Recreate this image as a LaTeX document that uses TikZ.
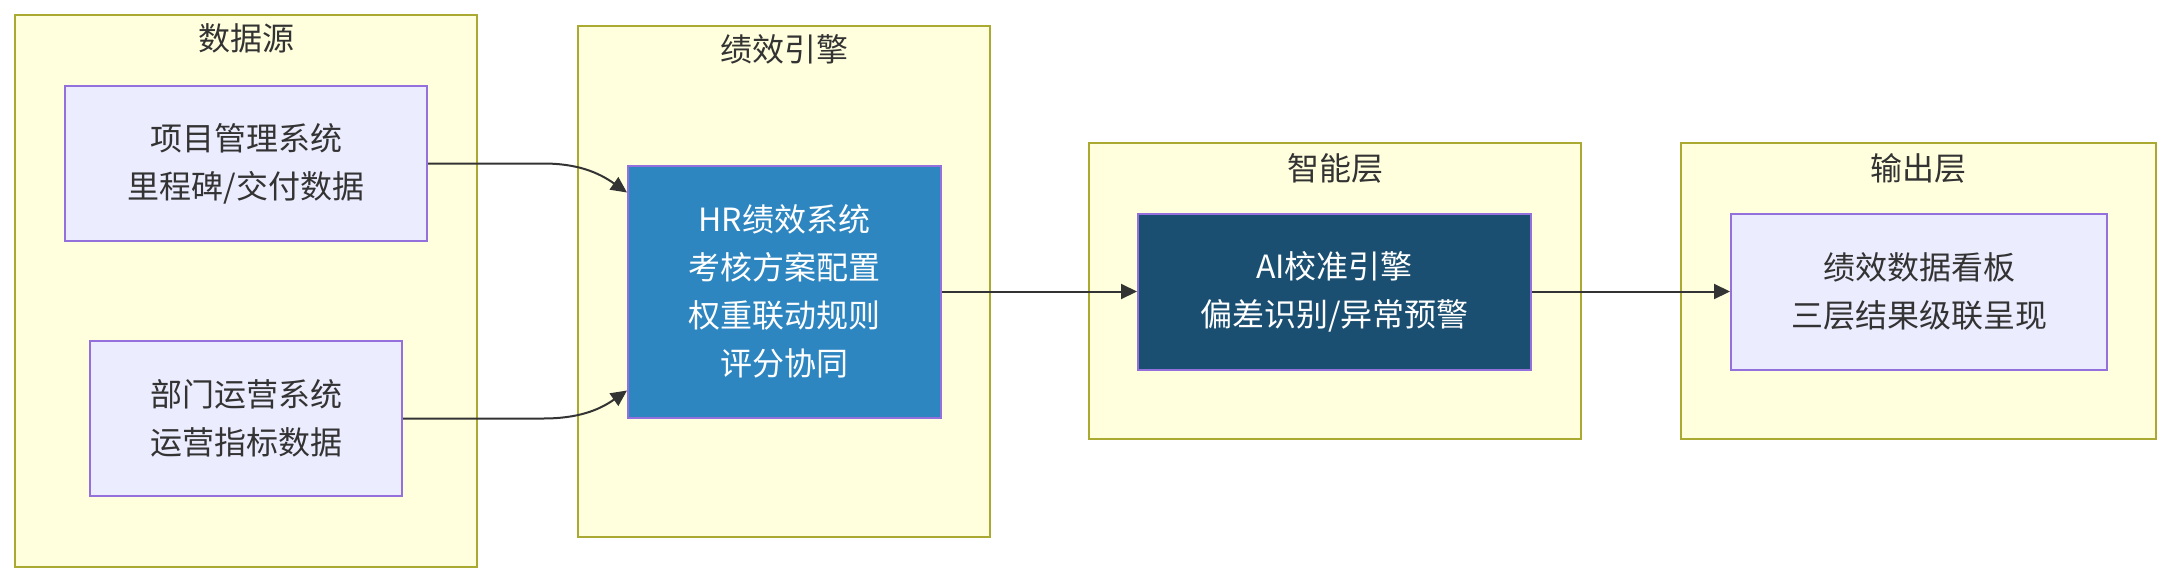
\documentclass[tikz,border=0pt]{standalone}
\usepackage{fontspec}
\setmainfont{Noto Sans CJK SC}
\usepackage{xcolor}
\usepackage{tikz}
\usetikzlibrary{positioning, arrows.meta}
\definecolor{grpfill}{HTML}{FFFFDE}
\definecolor{grpline}{HTML}{AAAA33}
\definecolor{boxfill}{HTML}{ECECFF}
\definecolor{boxline}{HTML}{9370DB}
\definecolor{hrfill}{HTML}{2E86C1}
\definecolor{aifill}{HTML}{1B4F72}
\definecolor{txt}{HTML}{333333}

\begin{document}
\begin{tikzpicture}[x=0.5pt, y=-0.5pt,
    font=\fontsize{16pt}{24pt}\selectfont,
    group/.style={draw=grpline, fill=grpfill, line width=1pt, inner sep=0pt},
    grouptitle/.style={text=txt, inner sep=0pt},
    sysbox/.style={draw=boxline, fill=boxfill, line width=1pt, text=txt, align=center, minimum height=77.5pt, inner sep=0pt},
    darkbox/.style={sysbox, text=white},
    arr/.style={-{Triangle[length=8pt, width=7.5pt]}, line width=1pt, draw=txt}]
    \useasboundingbox (0,0) rectangle (2173,584);
    % groups
    \node[group, minimum width=231pt, minimum height=276pt] (src) at (246,291) {};
    \node[group, minimum width=206pt, minimum height=255.5pt] (eng) at (784,281) {};
    \node[group, minimum width=246pt, minimum height=148pt] (ai) at (1335,291) {};
    \node[group, minimum width=237.5pt, minimum height=148pt] (outp) at (1918.5,291) {};
    \node[grouptitle, below=12pt of src.north, anchor=center] {数据源};
    \node[grouptitle, below=12.5pt of eng.north, anchor=center] {绩效引擎};
    \node[grouptitle, below=13pt of ai.north, anchor=center] {智能层};
    \node[grouptitle, below=13pt of outp.north, anchor=center] {输出层};
    % systems
    \node[sysbox, minimum width=181pt] (pms) at (246,163.5) {项目管理系统\\里程碑/交付数据};
    \node[sysbox, minimum width=156pt] (dept) at (246,418.5) {部门运营系统\\运营指标数据};
    \node[darkbox, fill=hrfill, minimum width=156.5pt, minimum height=126pt] (hr) at (784.5,291.5) {HR绩效系统\\考核方案配置\\权重联动规则\\评分协同};
    \node[darkbox, fill=aifill, minimum width=196.5pt, minimum height=78pt] (calib) at (1334.5,291.5) {AI校准引擎\\偏差识别/异常预警};
    \node[sysbox, minimum width=188pt, minimum height=78pt] (board) at (1919,291.5) {绩效数据看板\\三层结果级联呈现};
    % links
    \coordinate (hrin1) at ([yshift=-14pt]hr.north west);
    \coordinate (hrin2) at ([yshift=14pt]hr.south west);
    \draw[arr] (pms.east) -- ++(115,0) to[out=0, in=145] (hrin1);
    \draw[arr] (dept.east) -- ++(140,0) to[out=0, in=-145] (hrin2);
    \draw[arr] (hr.east) -- (calib.west);
    \draw[arr] (calib.east) -- (board.west);
\end{tikzpicture}
\end{document}
